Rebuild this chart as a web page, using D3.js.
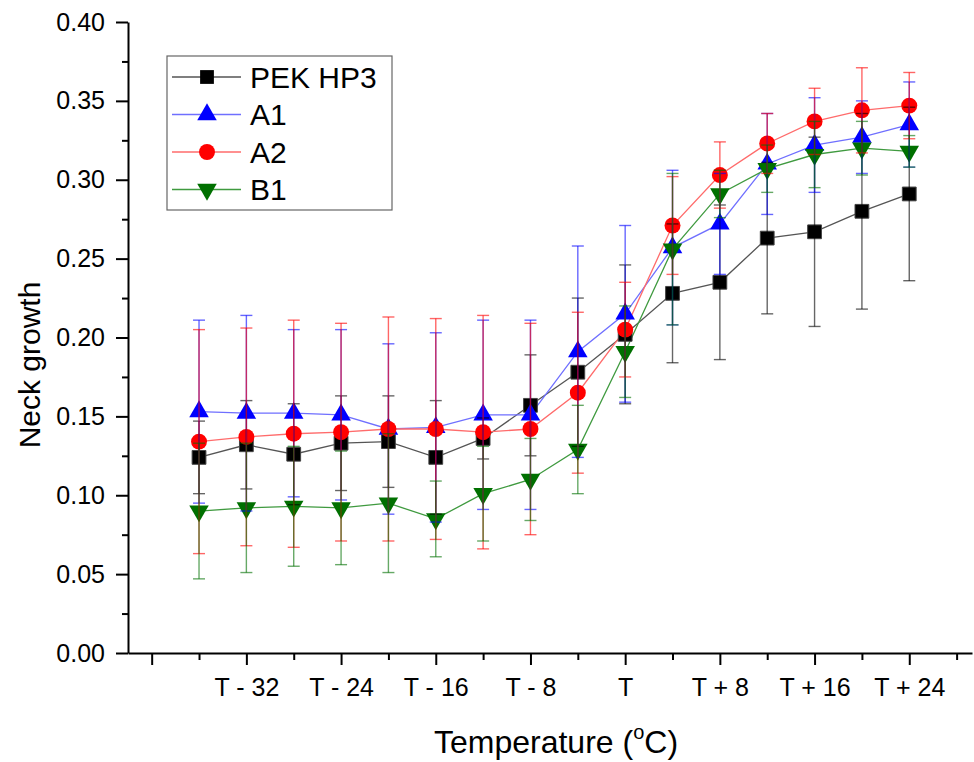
<!DOCTYPE html>
<html>
<head>
<meta charset="utf-8">
<script src="https://cdn.jsdelivr.net/npm/d3@7"></script>
<style>
  body { margin: 0; background: #fff; }
  svg text { font-family: "Liberation Sans", Arial, sans-serif; fill: #000; }
</style>
</head>
<body>
<div id="chart"></div>
<script>
// offsets from T (°C)
const temps = [-36, -32, -28, -24, -20, -16, -12, -8, -4, 0, 4, 8, 12, 16, 20, 24];

const pek    = [0.124, 0.132, 0.126, 0.133, 0.134, 0.124, 0.136, 0.157, 0.178, 0.202, 0.228, 0.235, 0.263, 0.267, 0.280, 0.291];
const pekErr = [0.023, 0.028, 0.032, 0.030, 0.029, 0.036, 0.013, 0.032, 0.047, 0.044, 0.044, 0.049, 0.048, 0.060, 0.062, 0.055];
const a1     = [0.153, 0.152, 0.152, 0.151, 0.142, 0.143, 0.151, 0.151, 0.191, 0.215, 0.257, 0.272, 0.310, 0.322, 0.327, 0.335];
const a1Err  = [0.058, 0.062, 0.053, 0.054, 0.054, 0.060, 0.060, 0.060, 0.067, 0.056, 0.049, 0.032, 0.032, 0.030, 0.023, 0.027];
const a2     = [0.134, 0.137, 0.139, 0.140, 0.142, 0.142, 0.140, 0.142, 0.165, 0.205, 0.271, 0.303, 0.323, 0.337, 0.344, 0.347];
const a2Err  = [0.071, 0.069, 0.072, 0.069, 0.071, 0.070, 0.074, 0.067, 0.051, 0.030, 0.031, 0.021, 0.019, 0.021, 0.027, 0.021];
const b1     = [0.090, 0.092, 0.093, 0.092, 0.095, 0.085, 0.101, 0.110, 0.129, 0.191, 0.256, 0.291, 0.307, 0.316, 0.320, 0.318];
const b1Err  = [0.043, 0.041, 0.038, 0.036, 0.044, 0.024, 0.030, 0.026, 0.028, 0.029, 0.048, 0.015, 0.015, 0.021, 0.017, 0.010];

const seriesNames = ["PEK HP3", "A1", "A2", "B1"];
const xMajorTicks = [-40, -32, -24, -16, -8, 0, 8, 16, 24];
const xMinorTicks = [-36, -28, -20, -12, -4, 4, 12, 20, 28];
const yMajorTicks = [0, 0.05, 0.10, 0.15, 0.20, 0.25, 0.30, 0.35, 0.40];
const yMinorTicks = [0.025, 0.075, 0.125, 0.175, 0.225, 0.275, 0.325, 0.375];

const series = [
  { name: seriesNames[0], vals: pek, err: pekErr, color: "#000000", line: "#555555", sym: d3.symbolSquare, size: 190, rot: 0 },
  { name: seriesNames[1], vals: a1,  err: a1Err,  color: "#0000ff", line: "#6f6fff", sym: d3.symbolTriangle, size: 165, rot: 0 },
  { name: seriesNames[2], vals: a2,  err: a2Err,  color: "#ff0000", line: "#ff6b6b", sym: d3.symbolCircle, size: 200, rot: 0 },
  { name: seriesNames[3], vals: b1,  err: b1Err,  color: "#007000", line: "#3f9a3f", sym: d3.symbolTriangle, size: 165, rot: 180 }
];

const W = 974, H = 762;
const svg = d3.select("#chart").append("svg")
  .attr("width", W)
  .attr("height", H);

const x = d3.scaleLinear().domain([-42, 29.3]).range([128, 972]);
const y = d3.scaleLinear().domain([0, 0.4]).range([653, 22]);

function tLabel(d) {
  if (d === -40) return "";
  if (d === 0) return "T";
  return d < 0 ? `T - ${-d}` : `T + ${d}`;
}

// axes
const yAxis = svg.append("g").attr("transform", "translate(128,0)")
  .call(d3.axisLeft(y).tickValues(yMajorTicks).tickSize(12).tickSizeOuter(0).tickPadding(11)
    .tickFormat(d3.format(".2f")));
yAxis.selectAll("text").style("font-size", "25px");
svg.append("g").attr("transform", "translate(128,0)")
  .call(d3.axisLeft(y).tickValues(yMinorTicks).tickSize(6).tickSizeOuter(0).tickFormat(""))
  .select(".domain").remove();

const xAxis = svg.append("g").attr("transform", "translate(0,653)")
  .call(d3.axisBottom(x).tickValues(xMajorTicks).tickSize(12).tickSizeOuter(0).tickPadding(13)
    .tickFormat(tLabel));
xAxis.selectAll("text").style("font-size", "25px");
svg.append("g").attr("transform", "translate(0,653)")
  .call(d3.axisBottom(x).tickValues(xMinorTicks).tickSize(7).tickSizeOuter(0).tickFormat(""))
  .select(".domain").remove();

svg.selectAll(".domain").attr("stroke", "#000").attr("stroke-width", 2);
svg.selectAll(".tick line").attr("stroke", "#000").attr("stroke-width", 2);

// axis titles
svg.append("text")
  .attr("transform", "translate(40,365) rotate(-90)")
  .attr("text-anchor", "middle")
  .style("font-size", "30px")
  .text("Neck growth");

const xt = svg.append("text")
  .attr("x", 556).attr("y", 753)
  .attr("text-anchor", "middle")
  .style("font-size", "32px");
xt.append("tspan").text("Temperature (");
xt.append("tspan").attr("dy", -14).style("font-size", "20px").text("o");
xt.append("tspan").attr("dy", 14).text("C)");

// connecting lines
const line = d3.line().x((d, i) => x(temps[i])).y(d => y(d));
series.forEach(s => {
  svg.append("path")
    .datum(s.vals)
    .attr("fill", "none")
    .attr("stroke", s.line)
    .attr("stroke-width", 1.3)
    .attr("d", line);
});

// markers
series.forEach(s => {
  svg.append("g").selectAll("path")
    .data(s.vals)
    .join("path")
    .attr("transform", (d, i) => `translate(${x(temps[i])},${y(d)}) rotate(${s.rot})`)
    .attr("d", d3.symbol().type(s.sym).size(s.size))
    .attr("fill", s.color)
    .attr("stroke", s.color === "#000000" ? "#444" : "none")
    .attr("stroke-width", 1);
});

// error bars
const cap = 6;
series.forEach(s => {
  const g = svg.append("g")
    .attr("stroke", s.color)
    .attr("stroke-width", 1.4)
    .attr("stroke-opacity", 0.6);
  s.vals.forEach((v, i) => {
    const cx = x(temps[i]);
    const top = y(v + s.err[i]), bot = y(v - s.err[i]);
    g.append("line").attr("x1", cx).attr("x2", cx).attr("y1", top).attr("y2", bot);
    g.append("line").attr("x1", cx - cap).attr("x2", cx + cap).attr("y1", top).attr("y2", top);
    g.append("line").attr("x1", cx - cap).attr("x2", cx + cap).attr("y1", bot).attr("y2", bot);
  });
});

// legend
const lg = svg.append("g");
lg.append("rect")
  .attr("x", 167).attr("y", 56)
  .attr("width", 225).attr("height", 154)
  .attr("fill", "#fff")
  .attr("stroke", "#666").attr("stroke-width", 1.2);
series.forEach((s, i) => {
  const ry = 77 + i * 37.5;
  lg.append("line")
    .attr("x1", 172).attr("x2", 241).attr("y1", ry).attr("y2", ry)
    .attr("stroke", s.line).attr("stroke-width", 1.3);
  lg.append("path")
    .attr("transform", `translate(207,${ry}) rotate(${s.rot})`)
    .attr("d", d3.symbol().type(s.sym).size(s.size))
    .attr("fill", s.color);
  lg.append("text")
    .attr("x", 250).attr("y", ry).attr("dy", "0.36em")
    .style("font-size", "30px")
    .text(s.name);
});
</script>
</body>
</html>
